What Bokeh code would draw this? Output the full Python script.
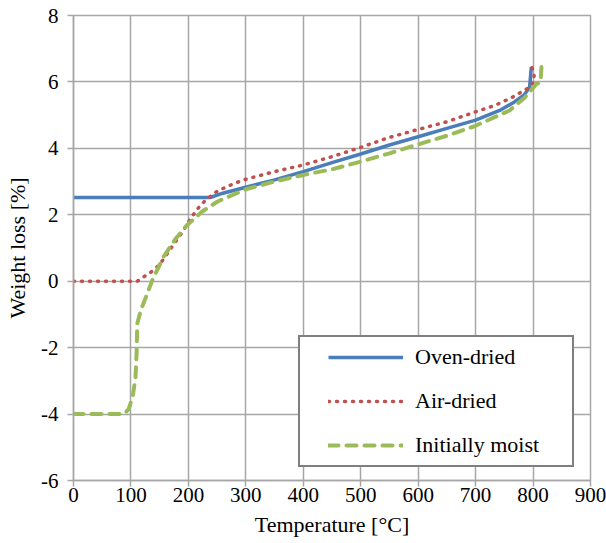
from bokeh.plotting import figure
from bokeh.models import Legend, LegendItem, FixedTicker
from bokeh.embed import file_html
from bokeh.resources import INLINE

# ---- data ----
temp_oven = [0, 100, 200, 238, 260, 300, 350, 400, 450, 500, 550, 600, 650, 700, 744, 767, 785, 794, 797]
loss_oven = [2.52, 2.52, 2.52, 2.52, 2.65, 2.83, 3.05, 3.3, 3.57, 3.83, 4.1, 4.35, 4.6, 4.85, 5.16, 5.39, 5.62, 5.84, 6.45]

temp_air = [0, 50, 111, 123, 137, 150, 174, 191, 204, 218, 231, 251, 278, 300, 350, 400, 450, 500,
            550, 600, 650, 700, 733, 762, 789, 801, 802, 797]
loss_air = [0, 0, 0, 0.14, 0.3, 0.5, 1.1, 1.52, 1.89, 2.22, 2.46, 2.72, 2.93, 3.07, 3.3, 3.5, 3.75, 4.03,
            4.33, 4.57, 4.8, 5.1, 5.29, 5.52, 5.79, 5.99, 6.24, 6.49]

temp_moist = [0, 50, 88, 96, 103, 108, 110, 111, 117, 126, 137, 157, 177, 197, 224, 251, 300, 350, 400,
              450, 500, 550, 600, 650, 700, 733, 759, 785, 806, 813, 815]
loss_moist = [-4, -4, -4, -3.85, -3.48, -2.89, -2.09, -1.28, -0.88, -0.48, 0.02, 0.74, 1.26, 1.68, 2.1,
              2.4, 2.77, 3.0, 3.2, 3.37, 3.6, 3.85, 4.12, 4.38, 4.68, 4.94, 5.14, 5.52, 5.94, 5.99, 6.55]

x_ticks = [0, 100, 200, 300, 400, 500, 600, 700, 800, 900]
y_ticks = [-6, -4, -2, 0, 2, 4, 6, 8]

series_labels = ["Oven-dried", "Air-dried", "Initially moist"]
x_title = "Temperature [°C]"
y_title = "Weight loss [%]"

FONT = "Liberation Serif"
GRID = "#A6A6A6"

p = figure(width=606, height=543, x_range=(0, 900), y_range=(-6, 8),
           output_backend="svg", toolbar_location=None,
           min_border_left=73, min_border_right=16, min_border_top=15, min_border_bottom=63)

p.outline_line_color = GRID
p.outline_line_width = 1.5

for ax in (p.xaxis[0], p.yaxis[0]):
    ax.axis_line_color = GRID
    ax.axis_line_width = 1.5
    ax.major_tick_line_color = GRID
    ax.major_tick_line_width = 1.5
    ax.major_tick_out = 6
    ax.major_tick_in = 0
    ax.minor_tick_line_color = None
    ax.major_label_text_font = FONT
    ax.major_label_text_font_size = "21px"
    ax.major_label_text_color = "black"
    ax.axis_label_text_font = FONT
    ax.axis_label_text_font_size = "22px"
    ax.axis_label_text_font_style = "normal"
    ax.axis_label_text_color = "black"

p.xaxis[0].ticker = FixedTicker(ticks=x_ticks)
p.yaxis[0].ticker = FixedTicker(ticks=y_ticks)
p.yaxis[0].major_label_overrides = {t: str(t) for t in y_ticks}
p.xaxis[0].axis_label = x_title
p.yaxis[0].axis_label = y_title
p.xaxis[0].major_label_standoff = 1
p.xaxis[0].axis_label_standoff = 7
p.yaxis[0].major_label_standoff = 9
p.yaxis[0].axis_label_standoff = 8

p.xgrid.ticker = FixedTicker(ticks=x_ticks)
p.ygrid.ticker = FixedTicker(ticks=y_ticks)
p.grid.grid_line_color = GRID
p.grid.grid_line_width = 1.5

r1 = p.line(temp_oven, loss_oven, line_color="#4A7EBB", line_width=3.5)
r2 = p.line(temp_air, loss_air, line_color="#C0504D", line_width=3.5,
            line_dash="1 7", line_cap="round")
r3 = p.line(temp_moist, loss_moist, line_color="#9BBB59", line_width=4,
            line_dash="10 8", line_cap="round")

legend = Legend(items=[LegendItem(label=series_labels[0], renderers=[r1]),
                       LegendItem(label=series_labels[1], renderers=[r2]),
                       LegendItem(label=series_labels[2], renderers=[r3])],
                location=(225, 13))
legend.title = " "
legend.title_location = "left"
legend.title_text_font_size = "10px"
legend.title_standoff = 10
legend.border_line_color = "black"
legend.border_line_width = 2
legend.background_fill_color = "white"
legend.background_fill_alpha = 1
legend.label_text_font = FONT
legend.label_text_font_size = "22px"
legend.label_text_color = "black"
legend.label_text_baseline = "middle"
legend.glyph_width = 75
legend.glyph_height = 26
legend.label_height = 26
legend.label_width = 150
legend.label_standoff = 12
legend.spacing = 18
legend.padding = 7
legend.margin = 0
p.add_layout(legend)

open("out.html", "w").write(file_html(p, INLINE))
